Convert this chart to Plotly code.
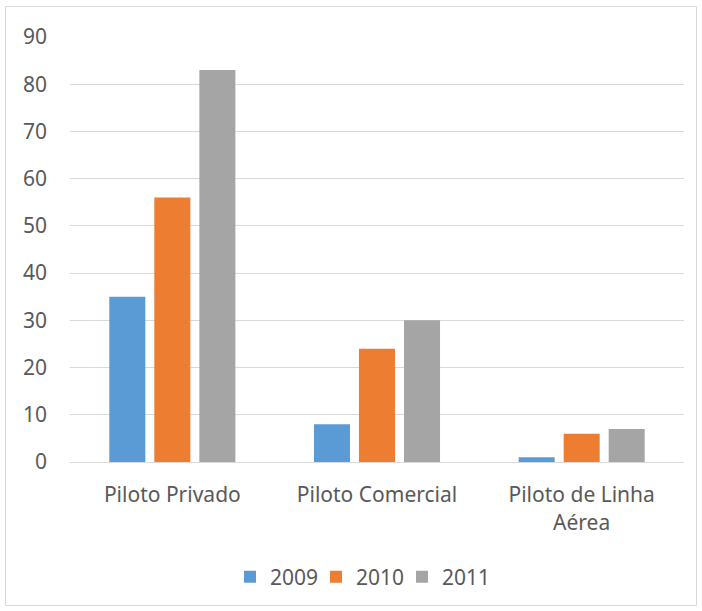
import plotly.graph_objects as go

categories = ["Piloto Privado", "Piloto Comercial", "Piloto de Linha<br>Aérea"]
series_names = ["2009", "2010", "2011"]
values_2009 = [35, 8, 1]
values_2010 = [56, 24, 6]
values_2011 = [83, 30, 7]
colors = ["#5B9BD5", "#ED7D31", "#A5A5A5"]
y_ticks = [0, 10, 20, 30, 40, 50, 60, 70, 80, 90]

fig = go.Figure()
for name, vals, col in zip(series_names, [values_2009, values_2010, values_2011], colors):
    fig.add_trace(go.Bar(x=categories, y=vals, name=name, marker=dict(color=col, line=dict(width=0))))

W, H = 702, 611
ml, mr, mt, mb = 70, 18, 37, 149
pw, ph = W - ml - mr, H - mt - mb

def px_x(p):
    return (p - ml) / pw

def px_y(p):
    return (H - mb - p) / ph

font_color = "#595959"
fs = 21
fig.update_layout(
    width=W, height=H,
    margin=dict(l=ml, r=mr, t=mt, b=mb),
    paper_bgcolor="white", plot_bgcolor="white",
    font=dict(family="Noto Sans, Open Sans, sans-serif", size=fs, color=font_color),
    barmode="group", bargap=0.34, bargroupgap=0.2,
    showlegend=True,
    legend=dict(orientation="h", x=px_x(359), xanchor="center", y=px_y(577), yanchor="middle",
                entrywidth=41, entrywidthmode="pixels",
                font=dict(size=fs, color=font_color), traceorder="normal"),
    xaxis=dict(showgrid=False, showline=True, linecolor="#D9D9D9", linewidth=1, ticks="",
               ticklabelstandoff=14, tickfont=dict(size=fs, color=font_color)),
    yaxis=dict(range=[0, 90], tickvals=y_ticks, showgrid=True, gridcolor="#D9D9D9", gridwidth=1,
               zeroline=False, showline=False, ticks="", ticklabelstandoff=22,
               tickfont=dict(size=fs, color=font_color)),
    shapes=[dict(type="rect", xref="paper", yref="paper",
                 x0=px_x(5.5), x1=px_x(696.5), y0=px_y(605.5), y1=px_y(6.5),
                 line=dict(color="#D9D9D9", width=1), fillcolor="rgba(0,0,0,0)", layer="below")],
)
fig.write_html("out.html")
